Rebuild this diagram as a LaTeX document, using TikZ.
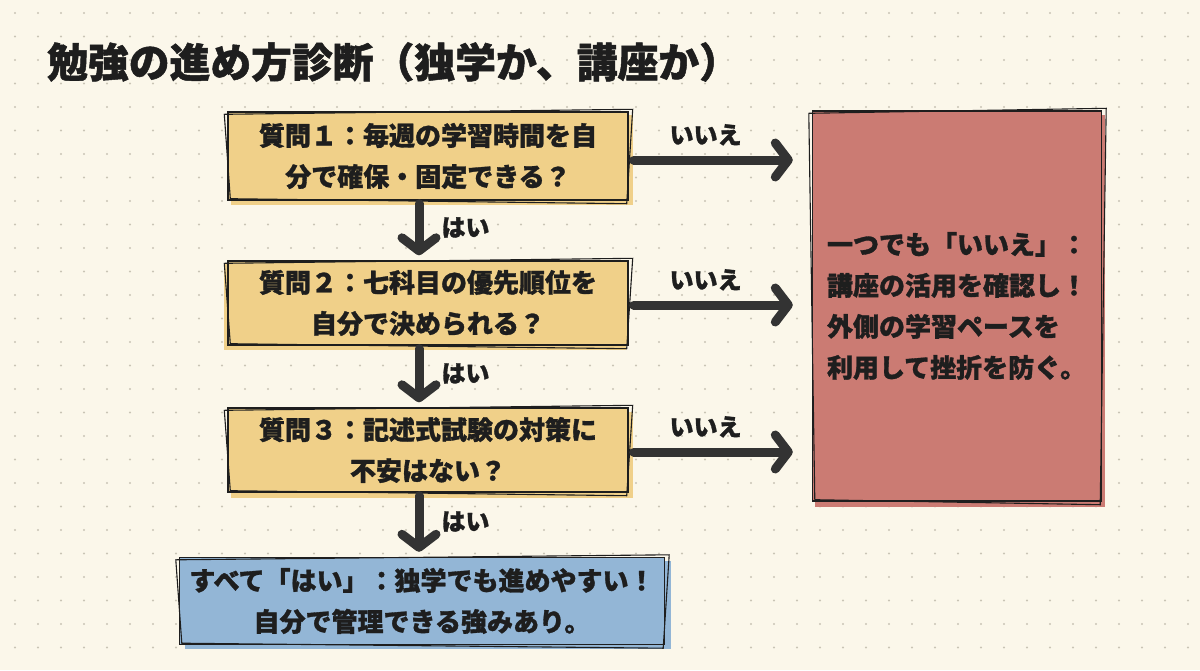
\documentclass[tikz,border=0pt]{standalone}
\usepackage{fontspec}
\setmainfont{Noto Sans CJK JP}[BoldFeatures={FakeBold=1.2}]
\usetikzlibrary{arrows.meta}
\definecolor{bgc}{HTML}{FBF7EA}
\definecolor{dotc}{HTML}{C9C4B5}
\definecolor{yel}{HTML}{F0D089}
\definecolor{redf}{HTML}{CB7B73}
\definecolor{bluef}{HTML}{93B6D6}
\definecolor{ink}{HTML}{1E1E1E}
\definecolor{arrc}{HTML}{333333}
\tikzset{
  box/.style={draw=ink, line width=1.4pt, align=center, inner sep=0pt,
    font=\bfseries\fontsize{26}{41}\selectfont, text=ink},
  arr/.style={draw=arrc, line width=9pt, line cap=round,
    -{Straight Barb[length=13pt,width=34pt,round]}},
  lbl/.style={font=\bfseries\fontsize{24}{28}\selectfont, text=ink, inner sep=2pt},
}
\newcommand{\sketchit}[2]{%
  \draw[ink, line width=1.1pt] ([shift={(-3,3)}]#1.north west) -- ([shift={(4,-2)}]#1.north east)
     -- ([shift={(-2,3)}]#1.south east) -- ([shift={(3,-2)}]#1.south west) -- cycle;}
\newcommand{\blob}[3]{%
  \fill[#2] ([shift={(#3)}]#1.north west) rectangle ([shift={(#3)}]#1.south east);}
\begin{document}
\begin{tikzpicture}[x=1pt,y=-1pt]
\fill[bgc] (0,0) rectangle (1200,670);
\useasboundingbox (0,0) rectangle (1200,670);
\foreach \x in {15,38,...,1200} {
  \foreach \y in {13,36.5,...,670} {
    \fill[dotc] (\x,\y) circle (1.2pt);
  }
}
% title
\node[anchor=west, font=\bfseries\fontsize{40.8}{44}\selectfont, text=ink, inner sep=0pt] (title) at (47,62) {勉強の進め方診断（独学か、講座か）};

% placeholders for offset colour blobs
\node[box, draw=none, minimum width=400pt, minimum height=88pt] (q1p) at (428,156) {};
\node[box, draw=none, minimum width=400pt, minimum height=84pt] (q2p) at (428,303) {};
\node[box, draw=none, minimum width=400pt, minimum height=84pt] (q3p) at (428,450) {};
\node[box, draw=none, minimum width=485pt, minimum height=87pt] (fp) at (422,601) {};
\node[box, draw=none, minimum width=289pt, minimum height=390pt] (rp) at (957,306) {};
\blob{q1p}{yel}{4,4}
\blob{q2p}{yel}{-3,4}
\blob{q3p}{yel}{4,5}
\blob{fp}{bluef}{6,4}
\blob{rp}{redf}{3,5}

\node[box, fill=yel, minimum width=400pt, minimum height=88pt] (q1) at (428,156)
  {質問１：毎週の学習時間を自\\分で確保・固定できる？};
\node[box, fill=yel, minimum width=400pt, minimum height=84pt] (q2) at (428,303)
  {質問２：七科目の優先順位を\\自分で決められる？};
\node[box, fill=yel, minimum width=400pt, minimum height=84pt] (q3) at (428,450)
  {質問３：記述式試験の対策に\\不安はない？};
\node[box, fill=bluef, minimum width=485pt, minimum height=87pt] (fin) at (422,601)
  {すべて「はい」：独学でも進めやすい！\\自分で管理できる強みあり。};
\node[box, fill=redf, minimum width=289pt, minimum height=390pt, align=left, text width=260pt] (red) at (957,306)
  {一つでも「いいえ」：\\講座の活用を確認し！\\外側の学習ペースを\\利用して挫折を防ぐ。};
\sketchit{q1}{}
\sketchit{q2}{}
\sketchit{q3}{}
\sketchit{fin}{}
\sketchit{red}{}

% yes arrows
\draw[arr, shorten <=3pt, shorten >=5pt] ([xshift=-9pt]q1.south) -- node[lbl, right=16pt, pos=0.45] (y1) {はい} ([xshift=-9pt]q2.north);
\draw[arr, shorten <=3pt, shorten >=5pt] ([xshift=-9pt]q2.south) -- node[lbl, right=16pt, pos=0.45] (y2) {はい} ([xshift=-9pt]q3.north);
\draw[arr, shorten <=3pt, shorten >=5pt] ([xshift=-9pt]q3.south) -- node[lbl, right=16pt, pos=0.45] (y3) {はい} ([xshift=-3pt]fin.north);

% no arrows
\draw[arr, shorten <=5pt, shorten >=19pt] ([yshift=-4pt]q1.east) -- node[lbl, above=8pt, pos=0.42] (n1) {いいえ} ([yshift=-4pt]q1.east -| red.west);
\draw[arr, shorten <=5pt, shorten >=19pt] ([yshift=-2pt]q2.east) -- node[lbl, above=8pt, pos=0.42] (n2) {いいえ} ([yshift=-2pt]q2.east -| red.west);
\draw[arr, shorten <=5pt, shorten >=19pt] ([yshift=-2pt]q3.east) -- node[lbl, above=8pt, pos=0.42] (n3) {いいえ} ([yshift=-2pt]q3.east -| red.west);
\end{tikzpicture}
\end{document}
